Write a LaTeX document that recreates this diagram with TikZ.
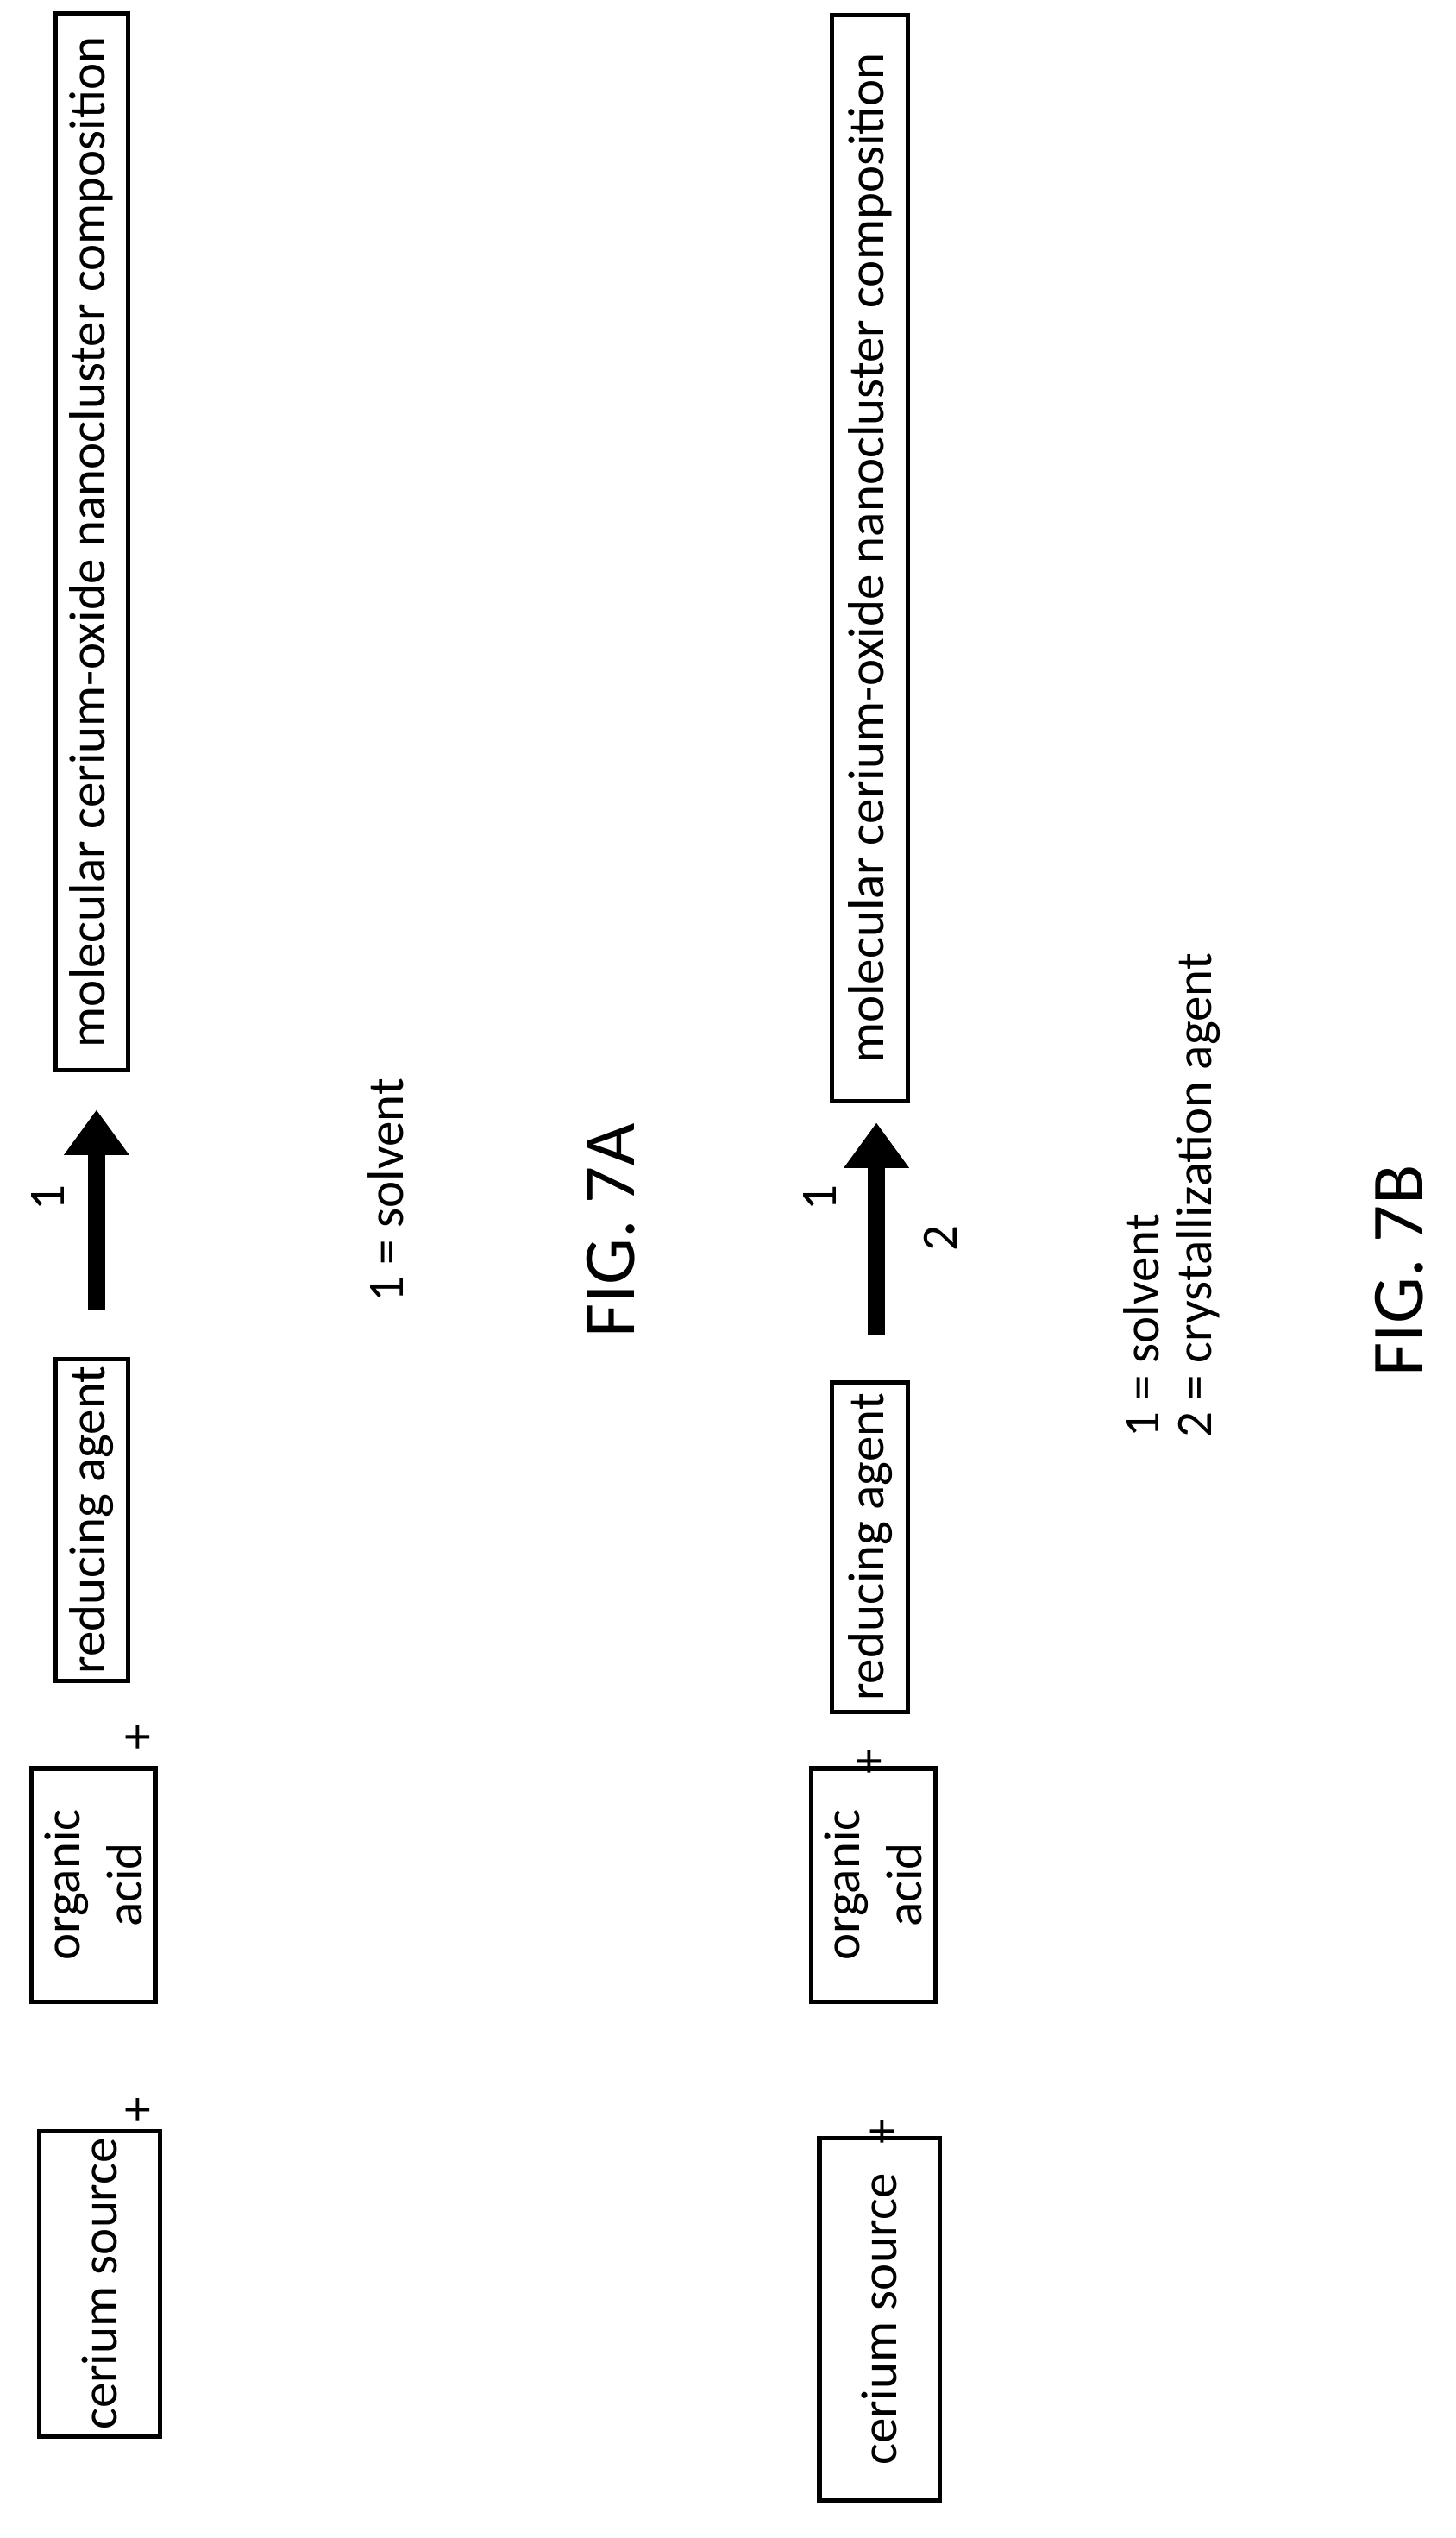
\documentclass[tikz,border=0pt]{standalone}
\usepackage{fontspec}
\setmainfont{Carlito}
\usetikzlibrary{arrows.meta}
\begin{document}
\begin{tikzpicture}[x=0.1mm,y=-0.1mm,
  box/.style={draw,line width=0.8pt,rotate=90,inner sep=0pt,align=center},
  txt/.style={rotate=90,font=\fontsize{9}{11}\selectfont},
  big/.style={rotate=90,font=\fontsize{13}{15}\selectfont},
  react/.style={line width=3pt,-{Triangle[width=11pt,length=8pt]}}]
\useasboundingbox (0,0) rectangle (905,1578);
\fontsize{9}{11}\selectfont
% FIG. 7A
\node[box,minimum width=19mm,minimum height=7.5mm] (ce1) at (62,1420) {cerium source};
\node[txt] (p1) at (87,1312) {+};
\node[box,minimum width=14.5mm,minimum height=7.7mm] (oa1) at (58,1172) {organic\\acid};
\node[txt] (p2) at (87,1080) {+};
\node[box,minimum width=20mm,minimum height=4.5mm] (ra1) at (57,945) {reducing agent};
\coordinate (a1s) at (60,815);
\coordinate (a1e) at (60,690);
\draw[react] (a1s) -- (a1e);
\node[txt] (n1) at (30,745) {1};
\node[box,minimum width=65.7mm,minimum height=4.5mm] (mc1) at (57,337) {molecular cerium-oxide nanocluster composition};
\node[txt] (leg1) at (240,740) {1 = solvent};
\node[big] (figA) at (380,765) {FIG. 7A};
% FIG. 7B
\node[box,minimum width=22.5mm,minimum height=7.5mm] (ce2) at (547,1442) {cerium source};
\node[txt] (p3) at (550,1325) {+};
\node[box,minimum width=14.5mm,minimum height=7.7mm] (oa2) at (543,1172) {organic\\acid};
\node[txt] (p4) at (542,1095) {+};
\node[box,minimum width=20.5mm,minimum height=4.7mm] (ra2) at (541,962) {reducing agent};
\coordinate (a2s) at (545,830);
\coordinate (a2e) at (545,698);
\draw[react] (a2s) -- (a2e);
\node[txt] (n2) at (510,745) {1};
\node[txt] (n3) at (585,770) {2};
\node[box,minimum width=67.5mm,minimum height=4.7mm] (mc2) at (541,347) {molecular cerium-oxide nanocluster composition};
\node[txt,anchor=west] (leg2) at (710,905) {1 = solvent};
\node[txt,anchor=west] (leg3) at (745,905) {2 = crystallization agent};
\node[big] (figB) at (870,790) {FIG. 7B};
\end{tikzpicture}
\end{document}
